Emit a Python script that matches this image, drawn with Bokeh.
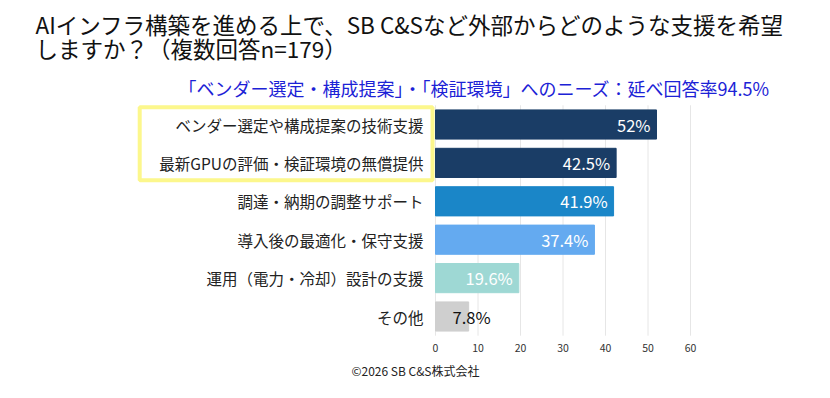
from bokeh.plotting import figure
from bokeh.models import Range1d, Label, BoxAnnotation, ColumnDataSource
from bokeh.core.properties import value
from bokeh.embed import file_html
from bokeh.resources import INLINE

categories = [
    "ベンダー選定や構成提案の技術支援",
    "最新GPUの評価・検証環境の無償提供",
    "調達・納期の調整サポート",
    "導入後の最適化・保守支援",
    "運用（電力・冷却）設計の支援",
    "その他",
]
values = [52.0, 42.5, 41.9, 37.4, 19.6, 7.8]
value_labels = ["52%", "42.5%", "41.9%", "37.4%", "19.6%", "7.8%"]
bar_colors = ["#1a3d66", "#1a3d66", "#1a86c8", "#64aaf0", "#9ed8d4", "#cfcfcf"]
x_ticks = [0, 10, 20, 30, 40, 50, 60]
x_tick_labels = ["0", "10", "20", "30", "40", "50", "60"]

title_line1 = "AIインフラ構築を進める上で、SB C&Sなど外部からどのような支援を希望"
title_line2 = "しますか？（複数回答n=179）"
subtitle = "「ベンダー選定・構成提案」・「検証環境」へのニーズ：延べ回答率94.5%"
footer = "©2026 SB C&S株式会社"

FONT = "Noto Sans CJK JP"
W, H = 814, 382
PX_PER_UNIT = 4.25      # horizontal scale (pixels per percentage point)
ZERO_X = 435            # pixel position of value 0
ROW_PX = 38.4           # pixel height of one category row
FIRST_ROW_Y = 124       # pixel centre of the first row

n = len(categories)
rows = list(range(n))

p = figure(
    width=W, height=H,
    x_range=Range1d(-ZERO_X / PX_PER_UNIT, (W - ZERO_X) / PX_PER_UNIT),
    y_range=Range1d((H - FIRST_ROW_Y) / ROW_PX, -FIRST_ROW_Y / ROW_PX),
    output_backend="svg", toolbar_location=None,
    x_axis_location=None, y_axis_location=None,
    min_border=0,
)
p.outline_line_color = None
p.background_fill_color = "white"
p.border_fill_color = "white"
p.xgrid.grid_line_color = None
p.ygrid.grid_line_color = None

# vertical grid lines spanning the bar area
p.segment(x0=x_ticks, x1=x_ticks, y0=[-0.5] * len(x_ticks), y1=[n - 0.5] * len(x_ticks),
          line_color="#e6e6e6", line_width=1)

# x tick labels
p.text(x=x_ticks, y=[n - 0.5] * len(x_ticks), text=x_tick_labels, text_align="center",
       text_baseline="middle", y_offset=12, text_font=value(FONT), text_font_size="10.5px",
       text_color="#333333")

src = ColumnDataSource(dict(row=rows, cat=categories, val=values, lab=value_labels,
                            color=bar_colors, zero=[0] * n))

p.hbar(y="row", left=0, right="val", height=0.76, color="color", source=src)

# category labels (right aligned just left of the bars)
p.text(x="zero", y="row", text="cat", source=src, text_align="right", text_baseline="middle",
       x_offset=-12, text_font=value(FONT), text_font_size="15.5px", text_color="#222222")

# value labels
inside = ColumnDataSource(dict(row=rows[:5], val=values[:5], lab=value_labels[:5]))
outside = ColumnDataSource(dict(row=rows[5:], val=values[5:], lab=value_labels[5:]))
p.text(x="val", y="row", text="lab", source=inside, text_align="right", text_baseline="middle",
       x_offset=-6, text_font=value(FONT), text_font_size="16.5px", text_color="white")
p.text(x="val", y="row", text="lab", source=outside, text_align="right", text_baseline="middle",
       x_offset=22, text_font=value(FONT), text_font_size="16.5px", text_color="#111111")

# highlight box around the first two categories
p.add_layout(BoxAnnotation(left=-69.6, right=-0.7, bottom=1.45, top=-0.45,
                           fill_color=None, fill_alpha=0, line_color="#fcf78c",
                           line_alpha=1.0, line_width=4))

def add_label(text, x, y, size, color="#111111", align="left"):
    p.add_layout(Label(x=x, y=y, x_units="screen", y_units="screen", text=text,
                       text_font=FONT, text_font_size=size, text_color=color,
                       text_align=align, text_baseline="middle"))

add_label(title_line1, 35, H - 23, "22.5px")
add_label(title_line2, 35, H - 47, "22.5px")
add_label(subtitle, 178, H - 87, "18px", color="#1c22d6")
add_label(footer, 415, H - 370, "12px", color="#222222", align="center")

open("out.html", "w").write(file_html(p, INLINE))
